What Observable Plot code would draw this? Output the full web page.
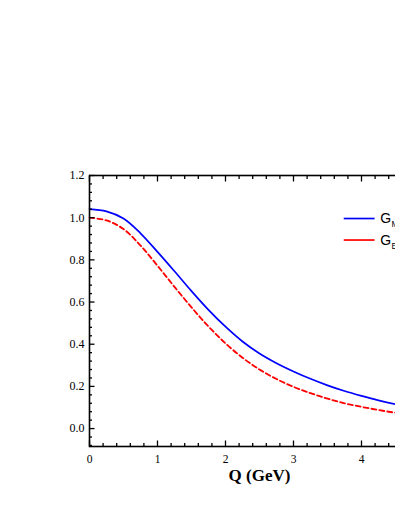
<!DOCTYPE html>
<html>
<head>
<meta charset="utf-8">
<script src="https://cdn.jsdelivr.net/npm/d3@7"></script>
<script src="https://cdn.jsdelivr.net/npm/@observablehq/plot@0.6"></script>
<style>
  html, body { margin: 0; padding: 0; background: #fff; overflow: hidden; }
  #chart { width: 500px; }
</style>
</head>
<body>
<div id="chart"></div>
<script>
// Data
const Q  = [0, 0.25, 0.5, 0.75, 1.0, 1.25, 1.5, 1.75, 2.0, 2.25, 2.5, 2.75, 3.0, 3.25, 3.5, 3.75, 4.0, 4.25, 4.5, 4.75, 5.0];
const GM = [1.041, 1.030, 0.996, 0.926, 0.838, 0.746, 0.652, 0.563, 0.483, 0.413, 0.356, 0.310, 0.271, 0.236, 0.205, 0.178, 0.155, 0.134, 0.116, 0.101, 0.088];
const GE = [1.000, 0.987, 0.946, 0.868, 0.772, 0.672, 0.575, 0.484, 0.404, 0.336, 0.280, 0.235, 0.198, 0.168, 0.142, 0.120, 0.103, 0.088, 0.075, 0.065, 0.056];

const xMajor = [0, 1, 2, 3, 4, 5];
const xMinor = [0.2, 0.4, 0.6, 0.8, 1.2, 1.4, 1.6, 1.8, 2.2, 2.4, 2.6, 2.8, 3.2, 3.4, 3.6, 3.8, 4.2, 4.4, 4.6, 4.8];
const yMajor = [0.0, 0.2, 0.4, 0.6, 0.8, 1.0, 1.2];
const yMinor = [-0.08, -0.04, 0.04, 0.08, 0.12, 0.16, 0.24, 0.28, 0.32, 0.36, 0.44, 0.48, 0.52, 0.56, 0.64, 0.68, 0.72, 0.76, 0.84, 0.88, 0.92, 0.96, 1.04, 1.08, 1.12, 1.16];

const legendMain = ["G", "G"];
const legendSub = ["M", "E"];
const xTitle = "Q (GeV)";

const gm = Q.map((q, i) => ({Q: q, v: GM[i]}));
const ge = Q.map((q, i) => ({Q: q, v: GE[i]}));

const legendRows = [
  {y: 0.996, color: "#0000ff", main: legendMain[0], sub: legendSub[0]},
  {y: 0.894, color: "#ff0000", main: legendMain[1], sub: legendSub[1]}
];

const tickStyle = {stroke: "black", strokeWidth: 1.3, text: null, label: null};

const chart = Plot.plot({
  width: 500,
  height: 511,
  marginLeft: 89,
  marginRight: 71,
  marginTop: 175,
  marginBottom: 65,
  x: {domain: [0, 5]},
  y: {domain: [-0.085, 1.2]},
  style: {fontFamily: "'Liberation Serif', 'Times New Roman', serif", background: "white", color: "black"},
  marks: [
    // curves
    Plot.line(gm, {x: "Q", y: "v", stroke: "#0000ff", strokeWidth: 1.7, curve: "catmull-rom"}),
    Plot.line(ge, {x: "Q", y: "v", stroke: "#ff0000", strokeWidth: 1.8, strokeDasharray: "5,3", curve: "catmull-rom"}),
    // inward ticks
    Plot.axisX(xMinor, {anchor: "bottom", tickSize: -3, ...tickStyle}),
    Plot.axisX(xMajor, {anchor: "bottom", tickSize: -5.5, ...tickStyle}),
    Plot.axisX(xMinor, {anchor: "top", tickSize: -3, ...tickStyle}),
    Plot.axisX(xMajor, {anchor: "top", tickSize: -5.5, ...tickStyle}),
    Plot.axisY(yMinor, {anchor: "left", tickSize: -3, ...tickStyle}),
    Plot.axisY(yMajor, {anchor: "left", tickSize: -5.5, ...tickStyle}),
    Plot.axisY(yMinor, {anchor: "right", tickSize: -3, ...tickStyle}),
    Plot.axisY(yMajor, {anchor: "right", tickSize: -5.5, ...tickStyle}),
    // tick labels
    Plot.axisX(xMajor, {anchor: "bottom", tickSize: 0, tickPadding: 8, fontSize: 11.5, label: null, tickFormat: d => String(d)}),
    Plot.axisY(yMajor, {anchor: "left", tickSize: 0, tickPadding: 5, fontSize: 12, label: null, tickFormat: d3.format(".1f")}),
    // frame
    Plot.frame({stroke: "black", strokeWidth: 1.6}),
    // axis title
    Plot.text([xTitle], {frameAnchor: "bottom", dy: 34, fontSize: 17, fontWeight: "bold", text: d => d}),
    // legend
    Plot.ruleY(legendRows, {y: "y", x1: 3.746, x2: 4.2, stroke: "color", strokeWidth: 1.7}),
    Plot.text(legendRows, {x: 4.277, y: "y", text: "main", textAnchor: "start", fontSize: 14, fontFamily: "'Liberation Sans', Arial, sans-serif"}),
    Plot.text(legendRows, {x: 4.44, y: "y", text: "sub", textAnchor: "start", dy: 6, fontSize: 8.5, fontFamily: "'Liberation Sans', Arial, sans-serif"})
  ]
});
document.getElementById("chart").appendChild(chart);
</script>
</body>
</html>
